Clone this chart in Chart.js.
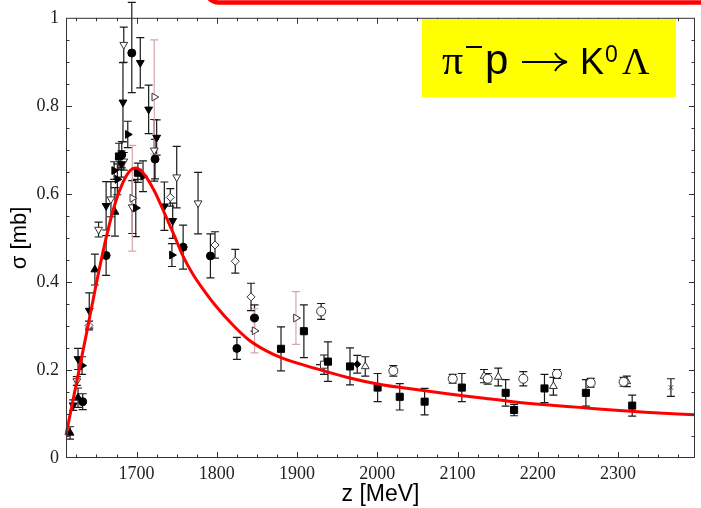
<!DOCTYPE html>
<html>
<head>
<meta charset="utf-8">
<script src="https://cdn.jsdelivr.net/npm/chart.js@4/dist/chart.umd.min.js"></script>
<style>
	body { margin: 0; background: #fff; }
	canvas { display: block; }
</style>
</head>
<body>
<canvas id="c" width="701" height="508"></canvas>
<script>
// tick labels
const xTicks = [1700, 1800, 1900, 2000, 2100, 2200, 2300];
const yTicks = [0, 0.2, 0.4, 0.6, 0.8, 1];

// measurements: [z (MeV), sigma (mb), error (mb), optional upper error]
const filledCircle = [
	[1694, 0.92, 0.09, 0.115], [1723, 0.679, 0.045], [1681.5, 0.689, 0.03], [1662, 0.46, 0.045],
	[1632.8, 0.128, 0.018], [1758, 0.479, 0.05], [1792, 0.459, 0.05], [1847, 0.318, 0.03],
	[1825, 0.249, 0.025]
];
const filledSquare = [
	[1678, 0.685, 0.03], [1701.6, 0.648, 0.022], [1880, 0.248, 0.05], [1908.5, 0.288, 0.06],
	[1938.5, 0.219, 0.045], [1966, 0.208, 0.042], [2000.4, 0.16, 0.032], [2028, 0.139, 0.03],
	[2059, 0.128, 0.03], [2105.4, 0.16, 0.032], [2160, 0.148, 0.03], [2170.5, 0.109, 0.013],
	[2208.4, 0.158, 0.032], [2260, 0.148, 0.03], [2317.7, 0.119, 0.024]
];
const filledTriDown = [
	[1704.6, 0.898, 0.057], [1683, 0.808, 0.09], [1715, 0.792, 0.055], [1725, 0.728, 0.04],
	[1662, 0.573, 0.055], [1734.6, 0.572, 0.055], [1745, 0.539, 0.04], [1621, 0.12, 0.012],
	[1627, 0.225, 0.024], [1641, 0.335, 0.04], [1681, 0.668, 0.03]
];
const filledTriUp = [
	[1617, 0.057, 0.014], [1627, 0.137, 0.022], [1648, 0.428, 0.035], [1673, 0.559, 0.055]
];
const filledTriRight = [
	[1689, 0.735, 0.03], [1676, 0.633, 0.035], [1672, 0.653, 0.02], [1699, 0.568, 0.065],
	[1708, 0.64, 0.035], [1744, 0.461, 0.026], [1632, 0.21, 0.02]
];
const filledDiamond = [[1975, 0.213, 0.02]];
const openTriDown = [
	[1684, 0.939, 0.04], [1722, 0.699, 0.07], [1694.6, 0.57, 0.06], [1668, 0.588, 0.04],
	[1652.6, 0.519, 0.017], [1750, 0.638, 0.07], [1776.6, 0.579, 0.07], [1625.5, 0.175, 0.01],
	[1684, 0.674, 0.02]
];
const openTriRight = [
	[1722, 0.82, 0.13], [1694.6, 0.59, 0.12], [1847, 0.289, 0.05], [1898.6, 0.318, 0.06]
];
const openCircle = [
	[1930, 0.333, 0.018], [2020, 0.198, 0.012], [2094, 0.18, 0.01], [2137.6, 0.18, 0.012],
	[2182, 0.18, 0.016], [2224, 0.191, 0.01], [2266, 0.171, 0.01], [2307, 0.173, 0.01]
];
const openTriUp = [
	[1985, 0.208, 0.022], [2133, 0.186, 0.015], [2150.8, 0.184, 0.02], [2219.5, 0.163, 0.02],
	[2311, 0.174, 0.012]
];
const openDiamond = [
	[1742, 0.592, 0.02], [1797.7, 0.484, 0.03], [1823, 0.447, 0.027], [1842.6, 0.366, 0.031],
	[1640.7, 0.301, 0.01]
];
const openSquare = [[1933.6, 0.212, 0.022]];
const crossPts = [[2366, 0.16, 0.02]];

// model curve
const curveX = [1612, 1625, 1637, 1650, 1662, 1673, 1683, 1692, 1698, 1708, 1722, 1735, 1747, 1758, 1770,
	1785, 1798, 1820, 1840, 1860, 1880, 1922, 1963, 2004, 2046, 2087, 2128, 2169, 2210, 2252, 2293, 2334, 2375, 2396];
const curveY = [0.052, 0.17, 0.278, 0.398, 0.5, 0.577, 0.626, 0.653, 0.659, 0.648, 0.607, 0.555, 0.505, 0.458, 0.418,
	0.378, 0.347, 0.302, 0.268, 0.245, 0.228, 0.204, 0.183, 0.167, 0.156, 0.146, 0.137, 0.128, 0.121, 0.115, 0.109, 0.104, 0.1, 0.098];

function pts(arr) {
	return arr.map(p => ({ x: p[0], y: p[1], lo: p[2], hi: p[3] !== undefined ? p[3] : p[2] }));
}

function series(arr, style, opts) {
	return Object.assign({
		type: 'scatter',
		data: pts(arr),
		pointStyle: style,
		pointRadius: 4.5,
		pointBackgroundColor: '#000',
		pointBorderColor: '#000',
		pointBorderWidth: 1,
		errColor: '#1a1a1a'
	}, opts || {});
}

const open = { pointBackgroundColor: '#fff', pointBorderColor: '#333' };

// vertical error bars with caps, under the markers
const errorBars = {
	id: 'errorBars',
	beforeDatasetsDraw(chart) {
		const ctx = chart.ctx, xs = chart.scales.x, ys = chart.scales.y;
		ctx.save();
		ctx.lineWidth = 1.2;
		chart.data.datasets.forEach(ds => {
			if (!ds.errColor) return;
			ctx.strokeStyle = ds.errColor;
			ds.data.forEach(p => {
				const px = xs.getPixelForValue(p.x);
				const y1 = ys.getPixelForValue(p.y + p.hi);
				const y2 = ys.getPixelForValue(p.y - p.lo);
				ctx.beginPath();
				ctx.moveTo(px, y1); ctx.lineTo(px, y2);
				ctx.moveTo(px - 4, y1); ctx.lineTo(px + 4, y1);
				ctx.moveTo(px - 4, y2); ctx.lineTo(px + 4, y2);
				if (ds.xErr) {
					const xa = xs.getPixelForValue(p.x - ds.xErr), xb = xs.getPixelForValue(p.x + ds.xErr);
					const py = ys.getPixelForValue(p.y);
					ctx.moveTo(xa, py); ctx.lineTo(xb, py);
				}
				ctx.stroke();
			});
		});
		ctx.restore();
	}
};

// frame with inward ticks on all four sides
const frame = {
	id: 'frame',
	afterDatasetsDraw(chart) {
		const ctx = chart.ctx, xs = chart.scales.x, ys = chart.scales.y, a = chart.chartArea;
		ctx.save();
		ctx.lineWidth = 1;
		ctx.strokeStyle = '#333';
		ctx.strokeRect(a.left + 0.5, a.top + 0.5, a.right - a.left - 1, a.bottom - a.top - 1);
		ctx.beginPath();
		for (let v = 1625; v < 2396; v += 25) {
			const px = Math.round(xs.getPixelForValue(v)) + 0.5;
			const len = v % 100 === 0 ? 6 : 3.5;
			ctx.moveTo(px, a.bottom); ctx.lineTo(px, a.bottom - len);
			ctx.moveTo(px, a.top); ctx.lineTo(px, a.top + len);
		}
		for (let i = 1; i < 20; i++) {
			const py = Math.round(ys.getPixelForValue(i * 0.05)) + 0.5;
			const len = i % 4 === 0 ? 6 : 3.5;
			ctx.moveTo(a.left, py); ctx.lineTo(a.left + len, py);
			ctx.moveTo(a.right, py); ctx.lineTo(a.right - len, py);
		}
		ctx.stroke();
		ctx.restore();
	}
};

// reaction label and top banner edge
const label = {
	id: 'label',
	afterDraw(chart) {
		const ctx = chart.ctx;
		ctx.save();
		ctx.fillStyle = '#ffff00';
		ctx.fillRect(422, 19, 254, 78);

		ctx.fillStyle = '#000';
		ctx.textBaseline = 'alphabetic';
		ctx.font = '42px "Liberation Serif"';
		ctx.fillText('π', 442, 74);
		ctx.fillRect(466, 46, 16, 2);
		ctx.font = '42px "Liberation Sans"';
		ctx.fillText('p', 485, 74);
		// arrow
		ctx.strokeStyle = '#000';
		ctx.lineWidth = 2;
		ctx.beginPath();
		ctx.moveTo(522, 62); ctx.lineTo(565, 62);
		ctx.moveTo(555, 53); ctx.quadraticCurveTo(559, 60, 567, 62);
		ctx.moveTo(555, 71); ctx.quadraticCurveTo(559, 64, 567, 62);
		ctx.stroke();
		ctx.font = '36px "Liberation Sans"';
		ctx.fillText('K', 580, 74);
		ctx.font = '23px "Liberation Sans"';
		ctx.fillText('0', 605, 62);
		ctx.font = '38px "Liberation Serif"';
		ctx.fillText('Λ', 622, 74);

		ctx.strokeStyle = '#ff0000';
		ctx.lineWidth = 4.5;
		ctx.beginPath();
		ctx.roundRect(205, -40, 560, 42.5, 14);
		ctx.stroke();
		ctx.restore();
	}
};

const tickFont = { family: 'Liberation Serif', size: 18 };

new Chart(document.getElementById('c'), {
	type: 'scatter',
	data: {
		datasets: [
			{
				type: 'line',
				data: curveX.map((x, i) => ({ x: x, y: curveY[i] })),
				borderColor: '#ff0000',
				borderWidth: 3,
				pointRadius: 0,
				fill: false,
				cubicInterpolationMode: 'monotone'
			},
			series(filledCircle, 'circle', { pointRadius: 4 }),
			series(filledSquare, 'rect', { pointRadius: 5 }),
			series(filledTriDown, 'triangle', { rotation: 180 }),
			series(filledTriUp, 'triangle'),
			series(filledTriRight, 'triangle', { rotation: 90 }),
			series(filledDiamond, 'rectRot', { pointRadius: 3.5 }),
			series(openTriDown, 'triangle', Object.assign({ rotation: 180 }, open)),
			series(openTriRight, 'triangle', Object.assign({ rotation: 90, errColor: '#d4a8a8' }, open)),
			series(openCircle, 'circle', Object.assign({ pointRadius: 4.5 }, open)),
			series(openTriUp, 'triangle', open),
			series(openDiamond, 'rectRot', Object.assign({ pointRadius: 4 }, open)),
			series(openSquare, 'rect', Object.assign({ pointRadius: 5, xErr: 10 }, open)),
			series(crossPts, 'crossRot', { pointRadius: 3, pointBorderColor: '#333' })
		]
	},
	options: {
		responsive: false,
		devicePixelRatio: 1,
		animation: false,
		clip: false,
		layout: { padding: { left: 0, right: 1, top: 11, bottom: 0 } },
		plugins: { legend: { display: false }, tooltip: { enabled: false } },
		scales: {
			x: {
				type: 'linear',
				min: 1612,
				max: 2396,
				afterBuildTicks: s => { s.ticks = xTicks.map(v => ({ value: v })); },
				afterFit: s => { s.height = 50; },
				grid: { display: false, drawTicks: false },
				border: { display: false },
				ticks: {
					font: tickFont, color: '#222', padding: 5, maxRotation: 0, autoSkip: false,
					callback: v => String(v)
				},
				title: {
					display: true,
					text: 'z [MeV]',
					font: { family: 'Liberation Sans', size: 23 },
					color: '#000',
					padding: { top: 0, bottom: 0 }
				}
			},
			y: {
				min: 0,
				max: 1,
				afterBuildTicks: s => { s.ticks = yTicks.map(v => ({ value: v })); },
				afterFit: s => { s.width = 66; },
				grid: { display: false, drawTicks: false },
				border: { display: false },
				ticks: {
					font: tickFont, color: '#222', padding: 7, autoSkip: false,
					callback: v => String(v)
				},
				title: {
					display: true,
					text: 'σ [mb]',
					font: { family: 'Liberation Sans', size: 22 },
					color: '#000',
					padding: { top: 7, bottom: 0 }
				}
			}
		}
	},
	plugins: [errorBars, frame, label]
});
</script>
</body>
</html>
